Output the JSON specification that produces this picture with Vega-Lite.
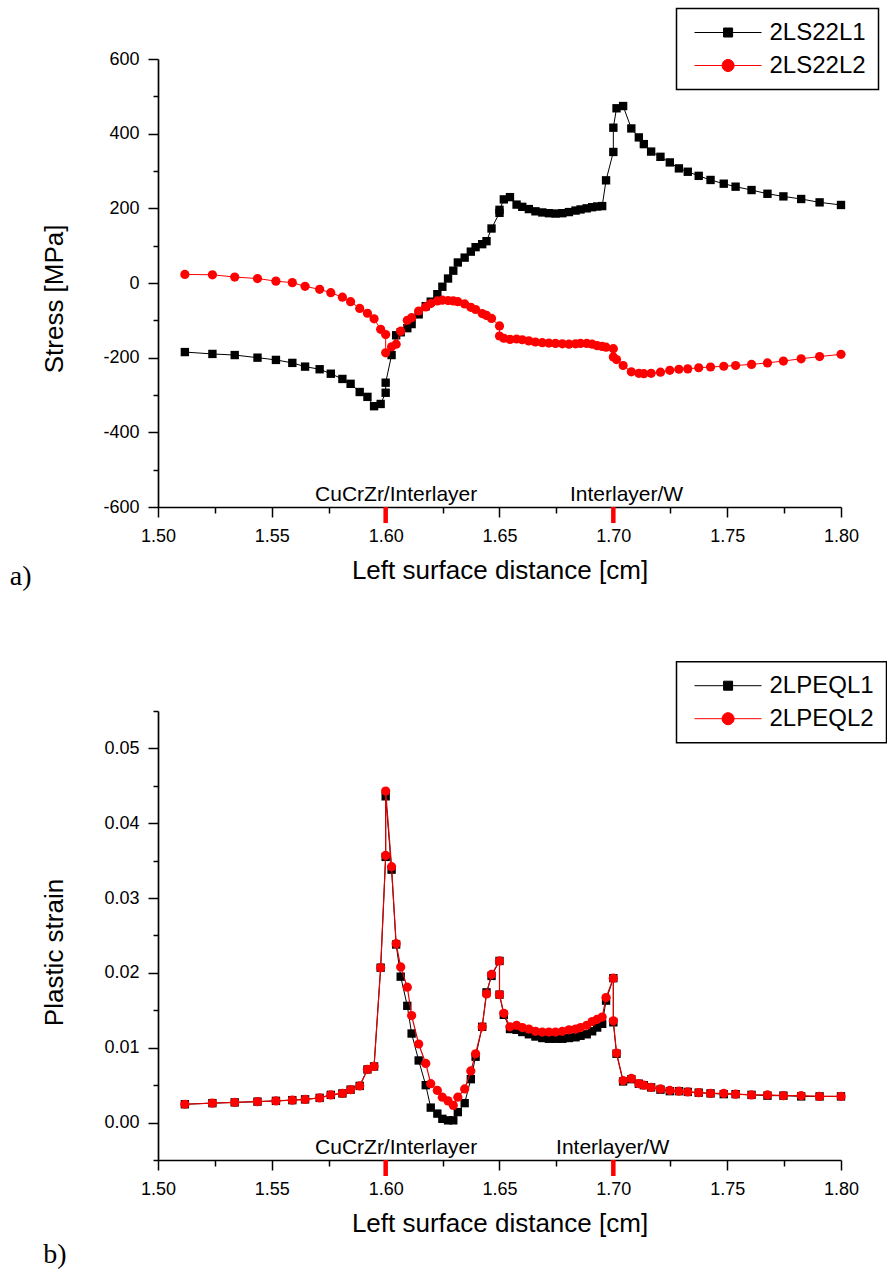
{
"$schema":"https://vega.github.io/schema/vega-lite/v6.json",
"autosize":{"type":"pad"},
"padding":{"left":9,"top":7,"right":0,"bottom":0},
"bounds":"flush",
"spacing":204,
"background":"white",
"config":{
 "view":{"stroke":null},
 "font":"Liberation Sans",
 "axis":{"domainColor":"black","domainWidth":1.7,"tickColor":"black","tickWidth":1.5,"labelFont":"Liberation Sans","labelFontSize":18,"labelColor":"black","titleFont":"Liberation Sans","titleFontSize":26,"titleFontWeight":"normal","titleColor":"black","grid":false,"labelFlush":false,"labelOverlap":false},
 "legend":{"strokeColor":"black","strokeWidth":1.5,"labelFont":"Liberation Sans","labelFontSize":24,"labelColor":"black","padding":12,"rowPadding":9,"symbolSize":144,"symbolOpacity":1,"symbolStrokeWidth":1,"labelOffset":57},
 "title":{"font":"Liberation Serif","fontSize":28,"fontWeight":"normal","color":"black"}
},
"datasets":{
"stress":[
{"i":1,"x":1.5118,"s":"2LS22L1","v":-185},{"i":2,"x":1.5239,"s":"2LS22L1","v":-190},{"i":3,"x":1.5337,"s":"2LS22L1","v":-193},{"i":4,"x":1.5437,"s":"2LS22L1","v":-200},{"i":5,"x":1.5518,"s":"2LS22L1","v":-206},{"i":6,"x":1.559,"s":"2LS22L1","v":-214},{"i":7,"x":1.5646,"s":"2LS22L1","v":-224},{"i":8,"x":1.571,"s":"2LS22L1","v":-231},{"i":9,"x":1.5759,"s":"2LS22L1","v":-243},{"i":10,"x":1.581,"s":"2LS22L1","v":-257},
{"i":11,"x":1.5846,"s":"2LS22L1","v":-270},{"i":12,"x":1.5886,"s":"2LS22L1","v":-292},{"i":13,"x":1.592,"s":"2LS22L1","v":-305},{"i":14,"x":1.5949,"s":"2LS22L1","v":-330},{"i":15,"x":1.5978,"s":"2LS22L1","v":-324},{"i":16,"x":1.6,"s":"2LS22L1","v":-294},{"i":17,"x":1.6,"s":"2LS22L1","v":-267},{"i":18,"x":1.6026,"s":"2LS22L1","v":-193},{"i":19,"x":1.6046,"s":"2LS22L1","v":-140},{"i":20,"x":1.6066,"s":"2LS22L1","v":-132},
{"i":21,"x":1.6095,"s":"2LS22L1","v":-121},{"i":22,"x":1.6114,"s":"2LS22L1","v":-110},{"i":23,"x":1.6145,"s":"2LS22L1","v":-84},{"i":24,"x":1.6176,"s":"2LS22L1","v":-62},{"i":25,"x":1.6198,"s":"2LS22L1","v":-50},{"i":26,"x":1.6227,"s":"2LS22L1","v":-30},{"i":27,"x":1.6249,"s":"2LS22L1","v":-10},{"i":28,"x":1.6274,"s":"2LS22L1","v":12},{"i":29,"x":1.6297,"s":"2LS22L1","v":33},{"i":30,"x":1.6317,"s":"2LS22L1","v":55},
{"i":31,"x":1.6347,"s":"2LS22L1","v":68},{"i":32,"x":1.6374,"s":"2LS22L1","v":84},{"i":33,"x":1.6395,"s":"2LS22L1","v":96},{"i":34,"x":1.6424,"s":"2LS22L1","v":104},{"i":35,"x":1.6443,"s":"2LS22L1","v":112},{"i":36,"x":1.6465,"s":"2LS22L1","v":146},{"i":37,"x":1.65,"s":"2LS22L1","v":188},{"i":38,"x":1.65,"s":"2LS22L1","v":196},{"i":39,"x":1.6519,"s":"2LS22L1","v":224},{"i":40,"x":1.6546,"s":"2LS22L1","v":230},
{"i":41,"x":1.6575,"s":"2LS22L1","v":210},{"i":42,"x":1.66,"s":"2LS22L1","v":204},{"i":43,"x":1.6629,"s":"2LS22L1","v":198},{"i":44,"x":1.6658,"s":"2LS22L1","v":192},{"i":45,"x":1.6688,"s":"2LS22L1","v":189},{"i":46,"x":1.6717,"s":"2LS22L1","v":187},{"i":47,"x":1.6746,"s":"2LS22L1","v":186},{"i":48,"x":1.6776,"s":"2LS22L1","v":187},{"i":49,"x":1.6805,"s":"2LS22L1","v":190},{"i":50,"x":1.6834,"s":"2LS22L1","v":194},
{"i":51,"x":1.6856,"s":"2LS22L1","v":197},{"i":52,"x":1.6883,"s":"2LS22L1","v":200},{"i":53,"x":1.6907,"s":"2LS22L1","v":203},{"i":54,"x":1.6929,"s":"2LS22L1","v":205},{"i":55,"x":1.6951,"s":"2LS22L1","v":206},{"i":56,"x":1.6968,"s":"2LS22L1","v":275},{"i":57,"x":1.7,"s":"2LS22L1","v":351},{"i":58,"x":1.7,"s":"2LS22L1","v":416},{"i":59,"x":1.7014,"s":"2LS22L1","v":468},{"i":60,"x":1.7043,"s":"2LS22L1","v":474},
{"i":61,"x":1.7079,"s":"2LS22L1","v":414},{"i":62,"x":1.7112,"s":"2LS22L1","v":390},{"i":63,"x":1.7134,"s":"2LS22L1","v":372},{"i":64,"x":1.7166,"s":"2LS22L1","v":352},{"i":65,"x":1.7207,"s":"2LS22L1","v":338},{"i":66,"x":1.7248,"s":"2LS22L1","v":323},{"i":67,"x":1.7288,"s":"2LS22L1","v":307},{"i":68,"x":1.7327,"s":"2LS22L1","v":298},{"i":69,"x":1.7375,"s":"2LS22L1","v":287},{"i":70,"x":1.7427,"s":"2LS22L1","v":276},
{"i":71,"x":1.7485,"s":"2LS22L1","v":266},{"i":72,"x":1.7537,"s":"2LS22L1","v":258},{"i":73,"x":1.7607,"s":"2LS22L1","v":249},{"i":74,"x":1.7677,"s":"2LS22L1","v":239},{"i":75,"x":1.7747,"s":"2LS22L1","v":232},{"i":76,"x":1.7825,"s":"2LS22L1","v":225},{"i":77,"x":1.7906,"s":"2LS22L1","v":216},{"i":78,"x":1.8,"s":"2LS22L1","v":209},
{"i":1,"x":1.5118,"s":"2LS22L2","v":23},{"i":2,"x":1.5239,"s":"2LS22L2","v":22},{"i":3,"x":1.5337,"s":"2LS22L2","v":16},{"i":4,"x":1.5437,"s":"2LS22L2","v":12},{"i":5,"x":1.5518,"s":"2LS22L2","v":5},{"i":6,"x":1.559,"s":"2LS22L2","v":1},{"i":7,"x":1.5646,"s":"2LS22L2","v":-9},{"i":8,"x":1.571,"s":"2LS22L2","v":-17},{"i":9,"x":1.5759,"s":"2LS22L2","v":-26},{"i":10,"x":1.581,"s":"2LS22L2","v":-38},
{"i":11,"x":1.5846,"s":"2LS22L2","v":-50},{"i":12,"x":1.5886,"s":"2LS22L2","v":-68},{"i":13,"x":1.592,"s":"2LS22L2","v":-81},{"i":14,"x":1.5949,"s":"2LS22L2","v":-96},{"i":15,"x":1.5978,"s":"2LS22L2","v":-124},{"i":16,"x":1.6,"s":"2LS22L2","v":-138},{"i":17,"x":1.6,"s":"2LS22L2","v":-187},{"i":18,"x":1.6026,"s":"2LS22L2","v":-171},{"i":19,"x":1.6046,"s":"2LS22L2","v":-164},{"i":20,"x":1.6066,"s":"2LS22L2","v":-129},
{"i":21,"x":1.6095,"s":"2LS22L2","v":-100},{"i":22,"x":1.6114,"s":"2LS22L2","v":-93},{"i":23,"x":1.6145,"s":"2LS22L2","v":-75},{"i":24,"x":1.6176,"s":"2LS22L2","v":-64},{"i":25,"x":1.6198,"s":"2LS22L2","v":-55},{"i":26,"x":1.6227,"s":"2LS22L2","v":-48},{"i":27,"x":1.6249,"s":"2LS22L2","v":-46},{"i":28,"x":1.6274,"s":"2LS22L2","v":-47},{"i":29,"x":1.6297,"s":"2LS22L2","v":-48},{"i":30,"x":1.6317,"s":"2LS22L2","v":-50},
{"i":31,"x":1.6347,"s":"2LS22L2","v":-56},{"i":32,"x":1.6374,"s":"2LS22L2","v":-65},{"i":33,"x":1.6395,"s":"2LS22L2","v":-71},{"i":34,"x":1.6424,"s":"2LS22L2","v":-82},{"i":35,"x":1.6443,"s":"2LS22L2","v":-87},{"i":36,"x":1.6465,"s":"2LS22L2","v":-95},{"i":37,"x":1.65,"s":"2LS22L2","v":-115},{"i":38,"x":1.65,"s":"2LS22L2","v":-142},{"i":39,"x":1.6519,"s":"2LS22L2","v":-148},{"i":40,"x":1.6546,"s":"2LS22L2","v":-151},
{"i":41,"x":1.6575,"s":"2LS22L2","v":-150},{"i":42,"x":1.66,"s":"2LS22L2","v":-152},{"i":43,"x":1.6629,"s":"2LS22L2","v":-155},{"i":44,"x":1.6658,"s":"2LS22L2","v":-158},{"i":45,"x":1.6688,"s":"2LS22L2","v":-160},{"i":46,"x":1.6717,"s":"2LS22L2","v":-161},{"i":47,"x":1.6746,"s":"2LS22L2","v":-162},{"i":48,"x":1.6776,"s":"2LS22L2","v":-163},{"i":49,"x":1.6805,"s":"2LS22L2","v":-164},{"i":50,"x":1.6834,"s":"2LS22L2","v":-163},
{"i":51,"x":1.6856,"s":"2LS22L2","v":-162},{"i":52,"x":1.6883,"s":"2LS22L2","v":-162},{"i":53,"x":1.6907,"s":"2LS22L2","v":-164},{"i":54,"x":1.6929,"s":"2LS22L2","v":-168},{"i":55,"x":1.6951,"s":"2LS22L2","v":-170},{"i":56,"x":1.6968,"s":"2LS22L2","v":-172},{"i":57,"x":1.7,"s":"2LS22L2","v":-176},{"i":58,"x":1.7,"s":"2LS22L2","v":-198},{"i":59,"x":1.7014,"s":"2LS22L2","v":-205},{"i":60,"x":1.7043,"s":"2LS22L2","v":-221},
{"i":61,"x":1.7079,"s":"2LS22L2","v":-238},{"i":62,"x":1.7112,"s":"2LS22L2","v":-242},{"i":63,"x":1.7134,"s":"2LS22L2","v":-243},{"i":64,"x":1.7166,"s":"2LS22L2","v":-242},{"i":65,"x":1.7207,"s":"2LS22L2","v":-239},{"i":66,"x":1.7248,"s":"2LS22L2","v":-234},{"i":67,"x":1.7288,"s":"2LS22L2","v":-231},{"i":68,"x":1.7327,"s":"2LS22L2","v":-230},{"i":69,"x":1.7375,"s":"2LS22L2","v":-227},{"i":70,"x":1.7427,"s":"2LS22L2","v":-225},
{"i":71,"x":1.7485,"s":"2LS22L2","v":-223},{"i":72,"x":1.7537,"s":"2LS22L2","v":-221},{"i":73,"x":1.7607,"s":"2LS22L2","v":-218},{"i":74,"x":1.7677,"s":"2LS22L2","v":-214},{"i":75,"x":1.7747,"s":"2LS22L2","v":-209},{"i":76,"x":1.7825,"s":"2LS22L2","v":-203},{"i":77,"x":1.7906,"s":"2LS22L2","v":-197},{"i":78,"x":1.8,"s":"2LS22L2","v":-191}
],
"strain":[
{"i":1,"x":1.5118,"s":"2LPEQL1","v":0.00245},{"i":2,"x":1.5239,"s":"2LPEQL1","v":0.0026},{"i":3,"x":1.5337,"s":"2LPEQL1","v":0.0027},{"i":4,"x":1.5437,"s":"2LPEQL1","v":0.0028},{"i":5,"x":1.5518,"s":"2LPEQL1","v":0.0029},{"i":6,"x":1.559,"s":"2LPEQL1","v":0.003},{"i":7,"x":1.5646,"s":"2LPEQL1","v":0.0031},{"i":8,"x":1.571,"s":"2LPEQL1","v":0.0033},{"i":9,"x":1.5759,"s":"2LPEQL1","v":0.0037},{"i":10,"x":1.581,"s":"2LPEQL1","v":0.0039},
{"i":11,"x":1.5846,"s":"2LPEQL1","v":0.0044},{"i":12,"x":1.5886,"s":"2LPEQL1","v":0.0049},{"i":13,"x":1.592,"s":"2LPEQL1","v":0.0071},{"i":14,"x":1.5949,"s":"2LPEQL1","v":0.0075},{"i":15,"x":1.5978,"s":"2LPEQL1","v":0.0207},{"i":16,"x":1.6,"s":"2LPEQL1","v":0.0355},{"i":17,"x":1.6,"s":"2LPEQL1","v":0.0436},{"i":18,"x":1.6026,"s":"2LPEQL1","v":0.0338},{"i":19,"x":1.6046,"s":"2LPEQL1","v":0.0238},{"i":20,"x":1.6066,"s":"2LPEQL1","v":0.0195},
{"i":21,"x":1.6095,"s":"2LPEQL1","v":0.0156},{"i":22,"x":1.6114,"s":"2LPEQL1","v":0.0119},{"i":23,"x":1.6145,"s":"2LPEQL1","v":0.0083},{"i":24,"x":1.6176,"s":"2LPEQL1","v":0.005},{"i":25,"x":1.6198,"s":"2LPEQL1","v":0.002},{"i":26,"x":1.6227,"s":"2LPEQL1","v":0.0012},{"i":27,"x":1.6249,"s":"2LPEQL1","v":0.0005},{"i":28,"x":1.6274,"s":"2LPEQL1","v":0.0003},{"i":29,"x":1.6297,"s":"2LPEQL1","v":0.0003},{"i":30,"x":1.6317,"s":"2LPEQL1","v":0.0014},
{"i":31,"x":1.6347,"s":"2LPEQL1","v":0.0026},{"i":32,"x":1.6374,"s":"2LPEQL1","v":0.0058},{"i":33,"x":1.6395,"s":"2LPEQL1","v":0.0088},{"i":34,"x":1.6424,"s":"2LPEQL1","v":0.0128},{"i":35,"x":1.6443,"s":"2LPEQL1","v":0.0174},{"i":36,"x":1.6465,"s":"2LPEQL1","v":0.0196},{"i":37,"x":1.65,"s":"2LPEQL1","v":0.0216},{"i":38,"x":1.65,"s":"2LPEQL1","v":0.0171},{"i":39,"x":1.6519,"s":"2LPEQL1","v":0.0144},{"i":40,"x":1.6546,"s":"2LPEQL1","v":0.0125},
{"i":41,"x":1.6575,"s":"2LPEQL1","v":0.0124},{"i":42,"x":1.66,"s":"2LPEQL1","v":0.0121},{"i":43,"x":1.6629,"s":"2LPEQL1","v":0.0118},{"i":44,"x":1.6658,"s":"2LPEQL1","v":0.0115},{"i":45,"x":1.6688,"s":"2LPEQL1","v":0.0113},{"i":46,"x":1.6717,"s":"2LPEQL1","v":0.0112},{"i":47,"x":1.6746,"s":"2LPEQL1","v":0.0112},{"i":48,"x":1.6776,"s":"2LPEQL1","v":0.0112},{"i":49,"x":1.6805,"s":"2LPEQL1","v":0.0113},{"i":50,"x":1.6834,"s":"2LPEQL1","v":0.0114},
{"i":51,"x":1.6856,"s":"2LPEQL1","v":0.0116},{"i":52,"x":1.6883,"s":"2LPEQL1","v":0.0118},{"i":53,"x":1.6907,"s":"2LPEQL1","v":0.0122},{"i":54,"x":1.6929,"s":"2LPEQL1","v":0.0127},{"i":55,"x":1.6951,"s":"2LPEQL1","v":0.0132},{"i":56,"x":1.6968,"s":"2LPEQL1","v":0.0163},{"i":57,"x":1.7,"s":"2LPEQL1","v":0.0193},{"i":58,"x":1.7,"s":"2LPEQL1","v":0.0134},{"i":59,"x":1.7014,"s":"2LPEQL1","v":0.0092},{"i":60,"x":1.7043,"s":"2LPEQL1","v":0.0055},
{"i":61,"x":1.7079,"s":"2LPEQL1","v":0.0058},{"i":62,"x":1.7112,"s":"2LPEQL1","v":0.0052},{"i":63,"x":1.7134,"s":"2LPEQL1","v":0.005},{"i":64,"x":1.7166,"s":"2LPEQL1","v":0.0047},{"i":65,"x":1.7207,"s":"2LPEQL1","v":0.0044},{"i":66,"x":1.7248,"s":"2LPEQL1","v":0.0042},{"i":67,"x":1.7288,"s":"2LPEQL1","v":0.0042},{"i":68,"x":1.7327,"s":"2LPEQL1","v":0.0041},{"i":69,"x":1.7375,"s":"2LPEQL1","v":0.004},{"i":70,"x":1.7427,"s":"2LPEQL1","v":0.0039},
{"i":71,"x":1.7485,"s":"2LPEQL1","v":0.0038},{"i":72,"x":1.7537,"s":"2LPEQL1","v":0.0038},{"i":73,"x":1.7607,"s":"2LPEQL1","v":0.0037},{"i":74,"x":1.7677,"s":"2LPEQL1","v":0.0036},{"i":75,"x":1.7747,"s":"2LPEQL1","v":0.0036},{"i":76,"x":1.7825,"s":"2LPEQL1","v":0.0035},{"i":77,"x":1.7906,"s":"2LPEQL1","v":0.0035},{"i":78,"x":1.8,"s":"2LPEQL1","v":0.0035},
{"i":1,"x":1.5118,"s":"2LPEQL2","v":0.00245},{"i":2,"x":1.5239,"s":"2LPEQL2","v":0.0026},{"i":3,"x":1.5337,"s":"2LPEQL2","v":0.0027},{"i":4,"x":1.5437,"s":"2LPEQL2","v":0.0028},{"i":5,"x":1.5518,"s":"2LPEQL2","v":0.0029},{"i":6,"x":1.559,"s":"2LPEQL2","v":0.003},{"i":7,"x":1.5646,"s":"2LPEQL2","v":0.0031},{"i":8,"x":1.571,"s":"2LPEQL2","v":0.0033},{"i":9,"x":1.5759,"s":"2LPEQL2","v":0.0037},{"i":10,"x":1.581,"s":"2LPEQL2","v":0.0039},
{"i":11,"x":1.5846,"s":"2LPEQL2","v":0.0044},{"i":12,"x":1.5886,"s":"2LPEQL2","v":0.0049},{"i":13,"x":1.592,"s":"2LPEQL2","v":0.0071},{"i":14,"x":1.5949,"s":"2LPEQL2","v":0.0075},{"i":15,"x":1.5978,"s":"2LPEQL2","v":0.0207},{"i":16,"x":1.6,"s":"2LPEQL2","v":0.0357},{"i":17,"x":1.6,"s":"2LPEQL2","v":0.0443},{"i":18,"x":1.6026,"s":"2LPEQL2","v":0.0342},{"i":19,"x":1.6046,"s":"2LPEQL2","v":0.0239},{"i":20,"x":1.6066,"s":"2LPEQL2","v":0.0208},
{"i":21,"x":1.6095,"s":"2LPEQL2","v":0.0181},{"i":22,"x":1.6114,"s":"2LPEQL2","v":0.0143},{"i":23,"x":1.6145,"s":"2LPEQL2","v":0.0105},{"i":24,"x":1.6176,"s":"2LPEQL2","v":0.0079},{"i":25,"x":1.6198,"s":"2LPEQL2","v":0.0052},{"i":26,"x":1.6227,"s":"2LPEQL2","v":0.0043},{"i":27,"x":1.6249,"s":"2LPEQL2","v":0.0034},{"i":28,"x":1.6274,"s":"2LPEQL2","v":0.0029},{"i":29,"x":1.6297,"s":"2LPEQL2","v":0.0023},{"i":30,"x":1.6317,"s":"2LPEQL2","v":0.0034},
{"i":31,"x":1.6347,"s":"2LPEQL2","v":0.0045},{"i":32,"x":1.6374,"s":"2LPEQL2","v":0.0069},{"i":33,"x":1.6395,"s":"2LPEQL2","v":0.0092},{"i":34,"x":1.6424,"s":"2LPEQL2","v":0.0128},{"i":35,"x":1.6443,"s":"2LPEQL2","v":0.0172},{"i":36,"x":1.6465,"s":"2LPEQL2","v":0.0198},{"i":37,"x":1.65,"s":"2LPEQL2","v":0.0216},{"i":38,"x":1.65,"s":"2LPEQL2","v":0.0171},{"i":39,"x":1.6519,"s":"2LPEQL2","v":0.0146},{"i":40,"x":1.6546,"s":"2LPEQL2","v":0.0128},
{"i":41,"x":1.6575,"s":"2LPEQL2","v":0.013},{"i":42,"x":1.66,"s":"2LPEQL2","v":0.0127},{"i":43,"x":1.6629,"s":"2LPEQL2","v":0.0125},{"i":44,"x":1.6658,"s":"2LPEQL2","v":0.0122},{"i":45,"x":1.6688,"s":"2LPEQL2","v":0.0121},{"i":46,"x":1.6717,"s":"2LPEQL2","v":0.0121},{"i":47,"x":1.6746,"s":"2LPEQL2","v":0.0121},{"i":48,"x":1.6776,"s":"2LPEQL2","v":0.0122},{"i":49,"x":1.6805,"s":"2LPEQL2","v":0.0124},{"i":50,"x":1.6834,"s":"2LPEQL2","v":0.0125},
{"i":51,"x":1.6856,"s":"2LPEQL2","v":0.0127},{"i":52,"x":1.6883,"s":"2LPEQL2","v":0.013},{"i":53,"x":1.6907,"s":"2LPEQL2","v":0.0135},{"i":54,"x":1.6929,"s":"2LPEQL2","v":0.0138},{"i":55,"x":1.6951,"s":"2LPEQL2","v":0.0141},{"i":56,"x":1.6968,"s":"2LPEQL2","v":0.0167},{"i":57,"x":1.7,"s":"2LPEQL2","v":0.0193},{"i":58,"x":1.7,"s":"2LPEQL2","v":0.0136},{"i":59,"x":1.7014,"s":"2LPEQL2","v":0.0093},{"i":60,"x":1.7043,"s":"2LPEQL2","v":0.0056},
{"i":61,"x":1.7079,"s":"2LPEQL2","v":0.0059},{"i":62,"x":1.7112,"s":"2LPEQL2","v":0.0052},{"i":63,"x":1.7134,"s":"2LPEQL2","v":0.005},{"i":64,"x":1.7166,"s":"2LPEQL2","v":0.0047},{"i":65,"x":1.7207,"s":"2LPEQL2","v":0.0045},{"i":66,"x":1.7248,"s":"2LPEQL2","v":0.0043},{"i":67,"x":1.7288,"s":"2LPEQL2","v":0.0042},{"i":68,"x":1.7327,"s":"2LPEQL2","v":0.0041},{"i":69,"x":1.7375,"s":"2LPEQL2","v":0.004},{"i":70,"x":1.7427,"s":"2LPEQL2","v":0.0039},
{"i":71,"x":1.7485,"s":"2LPEQL2","v":0.0039},{"i":72,"x":1.7537,"s":"2LPEQL2","v":0.0038},{"i":73,"x":1.7607,"s":"2LPEQL2","v":0.0037},{"i":74,"x":1.7677,"s":"2LPEQL2","v":0.0037},{"i":75,"x":1.7747,"s":"2LPEQL2","v":0.0036},{"i":76,"x":1.7825,"s":"2LPEQL2","v":0.0036},{"i":77,"x":1.7906,"s":"2LPEQL2","v":0.0035},{"i":78,"x":1.8,"s":"2LPEQL2","v":0.0035}
]
},
"resolve":{"scale":{"color":"independent","shape":"independent","stroke":"independent"}},
"vconcat":[
{
"width":683,"height":448,
"title":{"text":"a)","orient":"bottom","anchor":"start","frame":"group","dx":-148.2,"dy":-25},
"data":{"name":"stress"},
"encoding":{
 "x":{"field":"x","type":"quantitative","scale":{"domain":[1.5,1.8],"nice":false,"zero":false},
  "axis":{"values":[1.5,1.525,1.55,1.575,1.6,1.625,1.65,1.675,1.7,1.725,1.75,1.775,1.8],
   "labelExpr":"round(datum.value*1000) % 50 == 0 ? format(datum.value, '.2f') : ''",
   "tickSize":{"condition":{"test":"round(datum.value*1000) % 50 != 0","value":6},"value":10},
   "labelPadding":10,"title":"Left surface distance [cm]","titleY":71.5,"titleBaseline":"alphabetic"}},
 "y":{"field":"v","type":"quantitative","scale":{"domain":[-600,600],"nice":false,"zero":false},
  "axis":{"values":[-600,-500,-400,-300,-200,-100,0,100,200,300,400,500,600],
   "labelExpr":"datum.value % 200 == 0 ? '' + datum.value : ''",
   "tickSize":{"condition":{"test":"datum.value % 200 != 0","value":5},"value":10},
   "labelPadding":9,"title":"Stress [MPa]","titleX":-95.7,"titleY":239.4,"titleAngle":-90,"titleAlign":"center","titleBaseline":"alphabetic"}}
},
"layer":[
 {"mark":{"type":"point","filled":true,"opacity":0,"strokeWidth":1},
  "encoding":{
   "color":{"field":"s","type":"nominal","scale":{"domain":["2LS22L1","2LS22L2"],"range":["#000000","#ff0000"]},"legend":{"orient":"none","legendX":518.5,"legendY":-50.5,"title":null}},
   "stroke":{"field":"s","type":"nominal","scale":{"domain":["2LS22L1","2LS22L2"],"range":["#000000","#ff0000"]},"legend":{"orient":"none","legendX":518.5,"legendY":-50.5,"title":null}},
   "shape":{"field":"s","type":"nominal","scale":{"domain":["2LS22L1","2LS22L2"],"range":["M-1,0H10.17M3.85,-0.75H5.35V0.75H3.85Z","M-1,0H10.17M5.6,0A1,1,0,1,1,3.6,0A1,1,0,1,1,5.6,0Z"]},"legend":{"orient":"none","legendX":518.5,"legendY":-50.5,"title":null}}}},
 {"transform":[{"filter":"datum.s === '2LS22L1'"}],"mark":{"type":"line","strokeWidth":1,"color":"#000000"},"encoding":{"order":{"field":"i","type":"quantitative"}}},
 {"transform":[{"filter":"datum.s === '2LS22L1'"}],"mark":{"type":"point","shape":"square","filled":true,"opacity":1,"size":70,"color":"#000000"}},
 {"transform":[{"filter":"datum.s === '2LS22L2'"}],"mark":{"type":"line","strokeWidth":1,"color":"#ff0000"},"encoding":{"order":{"field":"i","type":"quantitative"}}},
 {"transform":[{"filter":"datum.s === '2LS22L2'"}],"mark":{"type":"point","shape":"circle","filled":true,"opacity":1,"size":85,"color":"#ff0000"}},
 {"data":{"values":[{"x":1.6046,"v":-600,"t":"CuCrZr/Interlayer"},{"x":1.7058,"v":-600,"t":"Interlayer/W"}]},
  "mark":{"type":"text","baseline":"alphabetic","align":"center","dy":-6,"fontSize":21,"font":"Liberation Sans","color":"#000000"},
  "encoding":{"text":{"field":"t"}}},
 {"data":{"values":[{"x":1.6,"v":-600,"v2":-643},{"x":1.7,"v":-600,"v2":-643}]},
  "mark":{"type":"rule","color":"#ff0000","strokeWidth":4.5},
  "encoding":{"y2":{"field":"v2"}}}
]
},
{
"width":683,"height":449,
"title":{"text":"b)","orient":"bottom","anchor":"start","frame":"group","dx":-114.8},
"data":{"name":"strain"},
"encoding":{
 "x":{"field":"x","type":"quantitative","scale":{"domain":[1.5,1.8],"nice":false,"zero":false},
  "axis":{"values":[1.5,1.525,1.55,1.575,1.6,1.625,1.65,1.675,1.7,1.725,1.75,1.775,1.8],
   "labelExpr":"round(datum.value*1000) % 50 == 0 ? format(datum.value, '.2f') : ''",
   "tickSize":{"condition":{"test":"round(datum.value*1000) % 50 != 0","value":6},"value":10},
   "labelPadding":10,"title":"Left surface distance [cm]","titleY":71.5,"titleBaseline":"alphabetic"}},
 "y":{"field":"v","type":"quantitative","scale":{"domain":[-0.005,0.055],"nice":false,"zero":false},
  "axis":{"values":[-0.005,0,0.005,0.01,0.015,0.02,0.025,0.03,0.035,0.04,0.045,0.05,0.055],
   "labelExpr":"round(datum.value*1000) % 10 == 0 ? format(datum.value, '.2f') : ''",
   "tickSize":{"condition":{"test":"round(datum.value*1000) % 10 != 0","value":5},"value":10},
   "labelPadding":9,"title":"Plastic strain","titleX":-95.7,"titleY":241,"titleAngle":-90,"titleAlign":"center","titleBaseline":"alphabetic"}}
},
"layer":[
 {"mark":{"type":"point","filled":true,"opacity":0,"strokeWidth":1},
  "encoding":{
   "color":{"field":"s","type":"nominal","scale":{"domain":["2LPEQL1","2LPEQL2"],"range":["#000000","#ff0000"]},"legend":{"orient":"none","legendX":518.5,"legendY":-49.3,"title":null}},
   "stroke":{"field":"s","type":"nominal","scale":{"domain":["2LPEQL1","2LPEQL2"],"range":["#000000","#ff0000"]},"legend":{"orient":"none","legendX":518.5,"legendY":-49.3,"title":null}},
   "shape":{"field":"s","type":"nominal","scale":{"domain":["2LPEQL1","2LPEQL2"],"range":["M-1,0H10.17M3.85,-0.75H5.35V0.75H3.85Z","M-1,0H10.17M5.6,0A1,1,0,1,1,3.6,0A1,1,0,1,1,5.6,0Z"]},"legend":{"orient":"none","legendX":518.5,"legendY":-49.3,"title":null}}}},
 {"transform":[{"filter":"datum.s === '2LPEQL1'"}],"mark":{"type":"line","strokeWidth":1,"color":"#000000"},"encoding":{"order":{"field":"i","type":"quantitative"}}},
 {"transform":[{"filter":"datum.s === '2LPEQL1'"}],"mark":{"type":"point","shape":"square","filled":true,"opacity":1,"size":70,"color":"#000000"}},
 {"transform":[{"filter":"datum.s === '2LPEQL2'"}],"mark":{"type":"line","strokeWidth":1.2,"color":"#e00000"},"encoding":{"order":{"field":"i","type":"quantitative"}}},
 {"transform":[{"filter":"datum.s === '2LPEQL2'"}],"mark":{"type":"point","shape":"circle","filled":true,"opacity":1,"size":85,"color":"#ff0000"}},
 {"data":{"values":[{"x":1.6046,"v":-0.005,"t":"CuCrZr/Interlayer"},{"x":1.6997,"v":-0.005,"t":"Interlayer/W"}]},
  "mark":{"type":"text","baseline":"alphabetic","align":"center","dy":-6,"fontSize":21,"font":"Liberation Sans","color":"#000000"},
  "encoding":{"text":{"field":"t"}}},
 {"data":{"values":[{"x":1.6,"v":-0.005,"v2":-0.00714},{"x":1.7,"v":-0.005,"v2":-0.00714}]},
  "mark":{"type":"rule","color":"#ff0000","strokeWidth":4.5},
  "encoding":{"y2":{"field":"v2"}}}
]
}
]
}
